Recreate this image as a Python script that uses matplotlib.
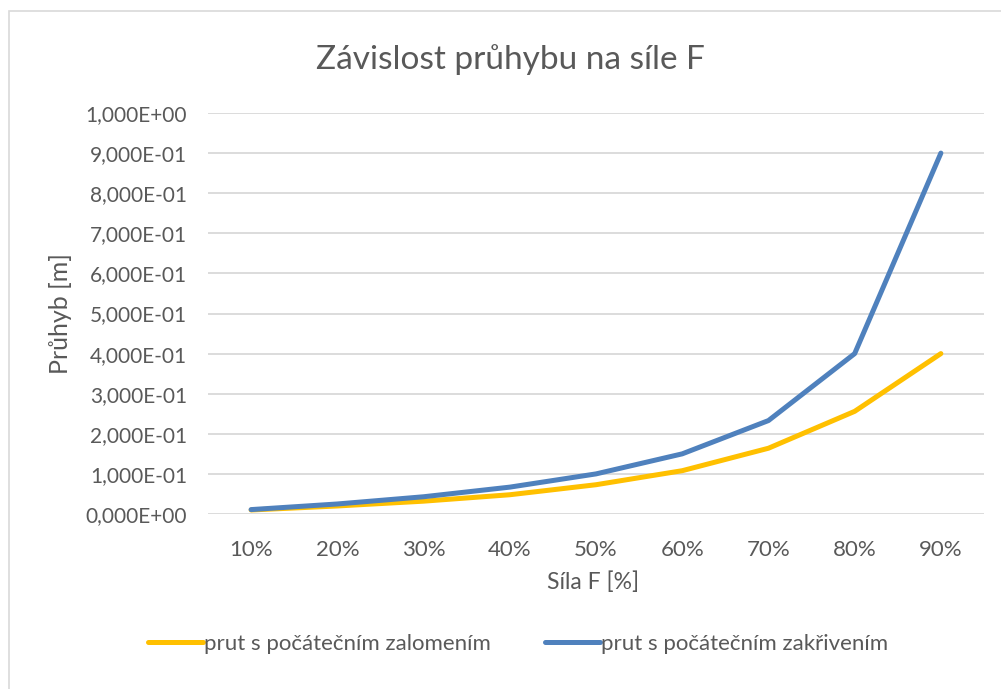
import matplotlib
matplotlib.use("Agg")
import matplotlib.pyplot as plt
from matplotlib.patches import Rectangle
from matplotlib.ticker import FuncFormatter

categories = ["10%", "20%", "30%", "40%", "50%", "60%", "70%", "80%", "90%"]
zalomeni = [0.010, 0.020, 0.032, 0.048, 0.073, 0.108, 0.164, 0.256, 0.400]
zakriveni = [0.011, 0.025, 0.043, 0.067, 0.100, 0.150, 0.233, 0.400, 0.900]
yticks = [i / 10 for i in range(11)]

plt.rcParams["font.family"] = ["Lato", "DejaVu Sans"]
txt = "#595959"
W, H = 1001, 689

fig = plt.figure(figsize=(W / 100, H / 100), dpi=100)
ax = fig.add_axes([208 / W, 1 - 514 / H, 776 / W, 401 / H])

xs = range(len(categories))
ax.plot(xs, zalomeni, color="#FFC000", lw=3.6, solid_capstyle="round",
        label="prut s počátečním zalomením", zorder=3)
ax.plot(xs, zakriveni, color="#4F81BD", lw=3.6, solid_capstyle="round",
        label="prut s počátečním zakřivením", zorder=4)

ax.set_xlim(-0.5, len(categories) - 0.5)
ax.set_ylim(0, 1)
ax.set_xticks(list(xs))
ax.set_xticklabels(categories)
ax.set_yticks(yticks)
ax.yaxis.set_major_formatter(FuncFormatter(lambda v, p: f"{v:.3E}".replace(".", ",")))
ax.grid(True, axis="y", color="#D9D9D9", lw=1.3)
ax.set_axisbelow(True)
for s in ax.spines.values():
    s.set_visible(False)
ax.tick_params(length=0, colors=txt)
ax.tick_params(axis="y", labelsize=15, pad=15)
ax.tick_params(axis="x", labelsize=16, pad=19)

fig.text(510 / W, 1 - 69 / H, "Závislost průhybu na síle F", fontsize=24,
         color=txt, ha="center", va="baseline")
ax.set_ylabel("Průhyb [m]", fontsize=18, color=txt, va="center")
ax.yaxis.set_label_coords(-147 / 776, 0.5)
ax.set_xlabel("Síla F [%]", fontsize=16.5, color=txt, va="center")
ax.xaxis.set_label_coords(0.5 - 3 / 776, -68 / 401)

fig.legend(loc="center", bbox_to_anchor=(518 / W, 1 - 644 / H), ncol=2, frameon=False,
           fontsize=16, labelcolor=txt, handlelength=2.5, handletextpad=0.05,
           columnspacing=2.4)

fig.patches.append(Rectangle((9 / W, -0.05), 1.0, 1.05 - 11 / H, transform=fig.transFigure,
                             fill=False, edgecolor="#D9D9D9", lw=1.2))

fig.savefig("out.png", dpi=100)
